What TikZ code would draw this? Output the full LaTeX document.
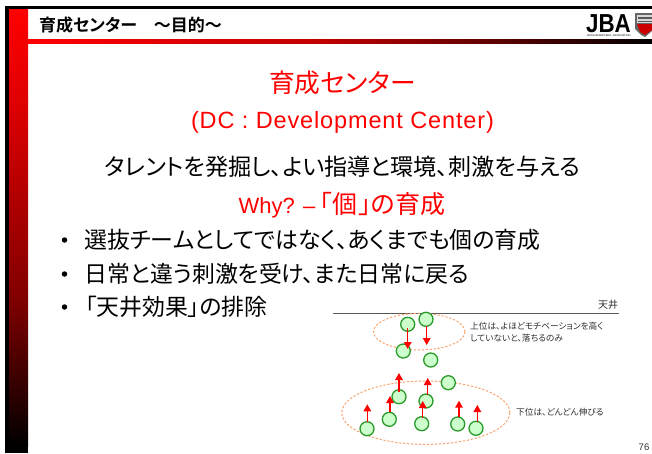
\documentclass[tikz,border=0pt]{standalone}
\usepackage{fontspec}
\setmainfont{Liberation Sans}
\newfontfamily\jp[RawFeature=+palt]{Noto Sans CJK JP}
\newfontfamily\jpb[RawFeature=+palt]{Noto Sans CJK JP Bold}
\usetikzlibrary{arrows.meta}
\definecolor{barA}{HTML}{FF0000}
\definecolor{barB}{HTML}{E00000}
\definecolor{barC}{HTML}{800000}
\definecolor{lineC}{HTML}{C00000}
\definecolor{ringorange}{HTML}{F9A46C}
\definecolor{dotfill}{HTML}{CCFFCC}
\definecolor{dotline}{HTML}{2A9A2A}
\definecolor{smalltext}{HTML}{303030}
\tikzset{
  x=1pt,y=-1pt,
  headline/.style={font=\jpb\fontsize{17}{18}\selectfont,anchor=west,inner sep=0pt},
  redtitle/.style={text=red,inner sep=0pt},
  bodytext/.style={font=\jp\fontsize{22.9}{24}\selectfont,anchor=west,inner sep=0pt},
  bullet/.style={circle,fill=black,inner sep=0pt,minimum size=5.5pt},
  ring/.style={draw=ringorange,line width=1pt,dash pattern=on 2.2pt off 1.8pt},
  dot/.style={circle,draw=dotline,fill=dotfill,line width=1.3pt,minimum size=14pt,inner sep=0pt},
  riser/.style={draw=red,line width=1.5pt,-{Triangle[length=7pt,width=7.5pt]}},
  note/.style={font=\jp\fontsize{8.7}{12}\selectfont,text=smalltext,anchor=west,inner sep=0pt,align=left},
}
\begin{document}
\begin{tikzpicture}
\useasboundingbox (0,0) rectangle (652,453);
\fill[white] (0,0) rectangle (652,453);
% frame and gradient bar
\fill[black] (5,6) rectangle (652,9);
\shade[top color=barA,bottom color=barB] (9,9) rectangle (28,100);
\shade[top color=barB,bottom color=barC] (9,100) rectangle (28,300);
\shade[top color=barC,bottom color=black] (9,300) rectangle (28,446);
\fill[black] (9,446) rectangle (28,453);
\fill[black] (5,9) rectangle (9,453);
\shade[left color=red,right color=lineC] (28,39) rectangle (326,43);
\shade[left color=lineC,right color=black] (326,39) rectangle (652,43);
% header
\node[headline] (head) at (39,25) {育成センター\quad ～目的～};
% logo
\node[font=\bfseries\fontsize{26}{26}\selectfont,inner sep=0pt,anchor=base] (jba) at (608.5,32) {\scalebox{0.86}[1]{JBA}};
\node[font=\fontsize{2.6}{3}\selectfont,inner sep=0pt] (jbasub) at (608.5,36) {JAPAN BASKETBALL ASSOCIATION};
\fill[black!60] (635,13) -- (652,13) -- (652,31) -- (645,37) -- (641,35) -- (635,29) -- cycle;
\fill[black!15] (637,15) rectangle (652,23);
\fill[black!65] (638,17) rectangle (652,19);
\fill[black!65] (638,20.5) rectangle (652,22);
\fill[red!80!black] (637,24) -- (652,24) -- (652,30) -- (645,35) -- (640,32) -- cycle;
% main texts
\node[redtitle,font=\jp\fontsize{25.7}{26}\selectfont] (t1) at (342.5,83) {育成センター};
\node[redtitle,font={\fontsize{23.5}{26}\selectfont\addfontfeatures{LetterSpace=3.7}}] (t2) at (342.5,122) {(DC : Development Center)};
\node[inner sep=0pt,font=\jp\fontsize{23.1}{24}\selectfont] (t3) at (342.5,167) {タレントを発掘し、よい指導と環境、刺激を与える};
\node[redtitle,font=\jp\fontsize{25}{26}\selectfont] (t4) at (342,205) {{\fontspec{Liberation Sans}\fontsize{22}{26}\selectfont Why? –}\kern4pt「\kern1pt 個\kern1pt」の育成};
% bullets
\node[bullet] (b1) at (64.5,240) {};
\node[bullet] (b2) at (64.5,274) {};
\node[bullet] (b3) at (64.5,307) {};
\node[bodytext] (l1) at (84,240) {選抜チームとしてではなく、あくまでも個の育成};
\node[bodytext] (l2) at (84,274) {日常と違う刺激を受け、また日常に戻る};
\node[bodytext] (l3) at (85,307) {「天井効果」の排除};
% ceiling figure
\node[font=\jp\fontsize{10}{10}\selectfont,text=smalltext,inner sep=0pt] (ceil) at (608,305) {天井};
\draw[black!65,line width=1pt] (333,313) -- (619,313);
\draw[ring] (419.3,331.7) ellipse [x radius=45.7,y radius=18.3];
\draw[ring] (425.8,412.7) ellipse [x radius=84,y radius=31.7];
\foreach \n/\x/\y in {1/407.7/324.3,2/426/319.3,3/403.3/351,4/430.7/360,5/448.3/382.7,6/399/396.7,7/426/401,8/389.3/419.3,9/421.7/423.7,10/457.7/424,11/476/428.3,12/367/428.7}
  \node[dot] (c\n) at (\x,\y) {};
\foreach \n/\x/\ya/\yb in {1/407.7/328/349,2/426.7/325.7/345,3/399/392/373,4/427.7/395/378,5/390/412/396,6/422.7/417.7/401,7/367.3/422/404.3,8/459/416.7/400.7,9/477.3/422/405}{
  \coordinate (as\n) at (\x,\ya);
  \coordinate (ae\n) at (\x,\yb);
  \draw[riser] (as\n) -- (ae\n);
}
\node[note] (n1) at (470,332) {上位は、よほどモチベーションを高く\\していないと、落ちるのみ};
\node[note] (n2) at (516,412) {下位は、どんどん伸びる};
\node[font=\fontsize{9.5}{11}\selectfont,text=smalltext,inner sep=0pt] (pg) at (644,447) {76};
\end{tikzpicture}
\end{document}
